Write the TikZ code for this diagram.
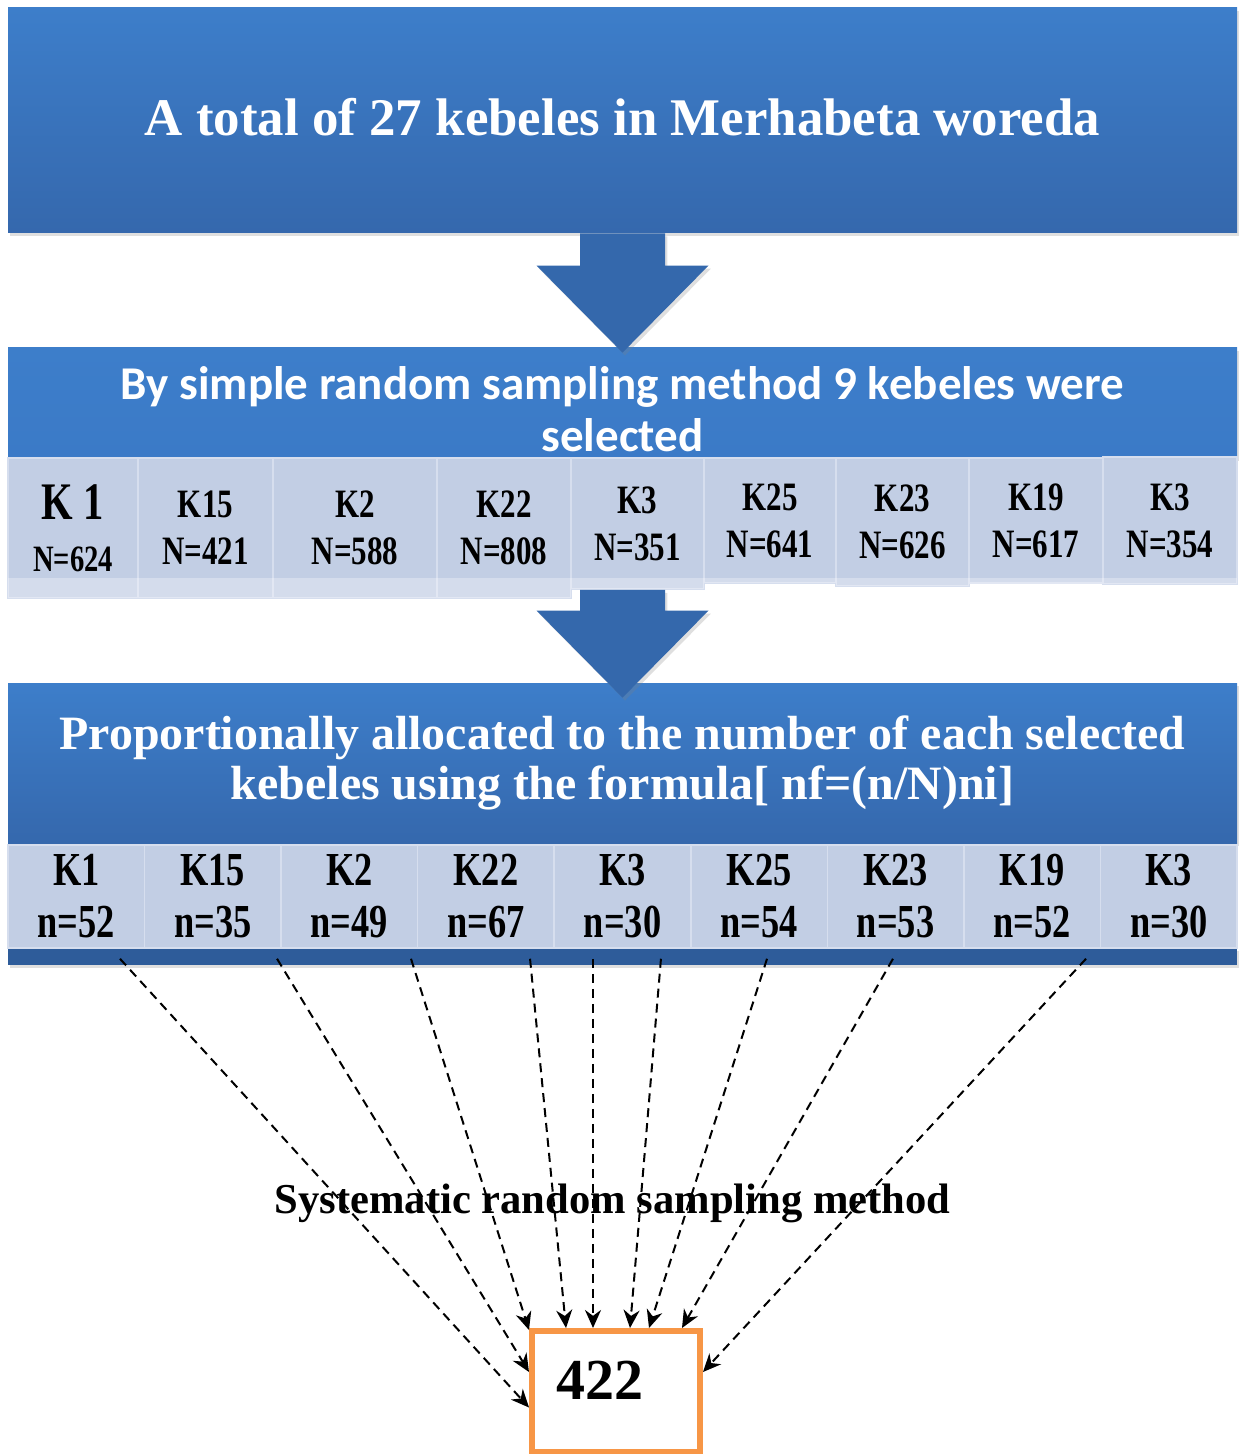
\documentclass[tikz,border=0pt]{standalone}
\usepackage{fontspec}
\setmainfont{Liberation Serif}
\newfontfamily\calibfont{Carlito}
\usetikzlibrary{calc,shadows,arrows.meta}

\definecolor{hdrtop}{HTML}{3D7ECA}
\definecolor{hdrbot}{HTML}{3568AD}
\definecolor{hdrflat}{HTML}{3B7AC7}
\definecolor{cellfill}{HTML}{C2CEE4}
\definecolor{cellline}{HTML}{D6DEEE}
\definecolor{bandblue}{HTML}{2E5C9A}
\definecolor{arrowblue}{HTML}{3468AC}
\definecolor{sampleorange}{HTML}{F79646}

\newcommand{\tallt}[1]{\scalebox{1}[1.3]{#1}}
\def\blockarrow(#1)(#2){\fill[arrowblue, softshadow] ($(#1)+(-42.5,0)$) -- ($(#1)+(42.5,0)$) -- ($(#2)+(42.5,-87)$) -- ($(#2)+(86,-87)$) -- (#2) -- ($(#2)+(-86,-87)$) -- ($(#2)+(-42.5,-87)$) -- cycle;}

\tikzset{
	softshadow/.style={drop shadow={shadow xshift=1.2pt, shadow yshift=-1.5pt, opacity=0.25}},
	bigbox/.style={inner sep=0pt, minimum width=614.5pt, text=white, align=center, softshadow},
	kcell/.style={fill=cellfill, draw=cellline, line width=0.75pt, inner sep=0pt, align=center, font=\bfseries\fontsize{15.5}{23.5}\selectfont},
	ncell/.style={kcell, minimum width=68.3pt, minimum height=51.5pt, font=\bfseries\fontsize{18.2}{26}\selectfont},
	pick/.style={line width=1pt, dash pattern=on 4.5pt off 3pt, -{Stealth[length=9pt,width=8pt]}},
	samplebox/.style={draw=sampleorange, line width=3pt, fill=white, inner xsep=12pt, inner ysep=0pt, text width=60pt, align=left, text height=34pt, text depth=26.5pt, font=\bfseries\fontsize{29}{30}\selectfont}
}

\begin{document}
\begin{tikzpicture}[x=0.5pt, y=-0.5pt]
		%%%%% START %%%%%
		\useasboundingbox (0,0) rectangle (1243,1454);
		
		\node[bigbox, minimum height=112.5pt, top color=hdrtop, bottom color=hdrbot, text depth=4pt, font=\bfseries\fontsize{26.45}{30}\selectfont] (total) at (622.5,120.5) {A total of 27 kebeles in Merhabeta woreda};
		
		\node[bigbox, minimum height=55pt, top color=hdrtop, bottom color=hdrflat, font=\calibfont\bfseries\fontsize{23.5}{26}\selectfont] (bysrs) at (622.5,403) {\rule{0pt}{22.5pt}By simple random sampling method 9 kebeles were\\selected};
		
		\node[kcell, minimum width=65pt, minimum height=70pt] (k1) at (73,528) {{\fontsize{20.3}{26}\selectfont\tallt{K 1}}\\[2.5pt]{\fontsize{14.3}{23.5}\selectfont\tallt{N=624}}};
		\node[kcell, minimum width=67.5pt, minimum height=70pt] (k2) at (205.5,528) {\tallt{K15}\\\tallt{N=421}};
		\node[kcell, minimum width=82pt, minimum height=70pt] (k3) at (355,528) {\tallt{K2}\\\tallt{N=588}};
		\node[kcell, minimum width=67pt, minimum height=70pt] (k4) at (504,528) {\tallt{K22}\\\tallt{N=808}};
		\node[kcell, minimum width=66.5pt, minimum height=65.5pt] (k5) at (637.5,523.5) {\tallt{K3}\\\tallt{N=351}};
		\node[kcell, minimum width=66pt, minimum height=62.5pt] (k6) at (770,520.5) {\tallt{K25}\\\tallt{N=641}};
		\node[kcell, minimum width=66.5pt, minimum height=64pt] (k7) at (902.5,522) {\tallt{K23}\\\tallt{N=626}};
		\node[kcell, minimum width=67pt, minimum height=62.5pt] (k8) at (1036,520.5) {\tallt{K19}\\\tallt{N=617}};
		\node[kcell, minimum width=67pt, minimum height=63.5pt] (k9) at (1170,520.5) {\tallt{K3}\\\tallt{N=354}};
		
		\fill[white, opacity=0.3] (8,578) rectangle (571,598);
		\fill[white, opacity=0.3] (571,578) rectangle (704,589);
		\fill[white, opacity=0.3] (704,578) rectangle (836,583);
		\fill[white, opacity=0.3] (836,578) rectangle (969,586);
		\fill[white, opacity=0.3] (969,578) rectangle (1237,584);
		
		\coordinate (tip1) at ([yshift=-2.5pt]bysrs.north);
		\blockarrow(total.south)(tip1)
		
		\node[bigbox, minimum height=80pt, top color=hdrtop, bottom color=hdrbot, font=\bfseries\fontsize{23.95}{25}\selectfont] (propall) at (622.5,763) {Proportionally allocated to the number of each selected\\kebeles using the formula[ nf=(n/N)ni]};
		\fill[bandblue, softshadow] (8,948) rectangle (1237,965);
		
		\node[ncell] (m1) at (76.28,896.5) {\tallt{K1}\\\tallt{n=52}};
		\node[ncell] (m2) at (212.83,896.5) {\tallt{K15}\\\tallt{n=35}};
		\node[ncell] (m3) at (349.39,896.5) {\tallt{K2}\\\tallt{n=49}};
		\node[ncell] (m4) at (485.94,896.5) {\tallt{K22}\\\tallt{n=67}};
		\node[ncell] (m5) at (622.5,896.5) {\tallt{K3}\\\tallt{n=30}};
		\node[ncell] (m6) at (759.06,896.5) {\tallt{K25}\\\tallt{n=54}};
		\node[ncell] (m7) at (895.61,896.5) {\tallt{K23}\\\tallt{n=53}};
		\node[ncell] (m8) at (1032.17,896.5) {\tallt{K19}\\\tallt{n=52}};
		\node[ncell] (m9) at (1168.72,896.5) {\tallt{K3}\\\tallt{n=30}};
		
		\coordinate (top2) at (bysrs.south |- k5.south);
		\coordinate (tip2) at ([yshift=-7.5pt]propall.north);
		\blockarrow(top2)(tip2)
		
		\node[font=\bfseries\fontsize{21.3}{24}\selectfont] (sysrand) at (612.5,1203) {Systematic random sampling method};
		
		\node[samplebox] (sample) at (616,1391.5) {422};
		
		\draw[pick] ([shift={(43.7,10)}]m1.south) -- ([shift={(0,16)}]sample.west);
		\draw[pick] ([shift={(64.2,10)}]m2.south) -- ([shift={(0,-19.5)}]sample.west);
		\draw[pick] ([shift={(61.6,10)}]m3.south) -- ([shift={(0,2)}]sample.north west);
		\draw[pick] ([shift={(44.1,10)}]m4.south) -- ([shift={(-50,0)}]sample.north);
		\draw[pick] ([shift={(-29.5,10)}]m5.south) -- ([shift={(-23,0)}]sample.north);
		\draw[pick] ([shift={(-98.1,10)}]m6.south) -- ([shift={(14,0)}]sample.north);
		\draw[pick] ([shift={(-128.6,10)}]m7.south) -- ([shift={(33,0)}]sample.north);
		\draw[pick] ([shift={(-139.2,10)}]m8.south) -- ([shift={(66,0)}]sample.north);
		\draw[pick] ([shift={(-82.7,10)}]m9.south) -- ([shift={(0,-19.5)}]sample.east);
		
		%%%%% END %%%%%
	\end{tikzpicture}
\end{document}
